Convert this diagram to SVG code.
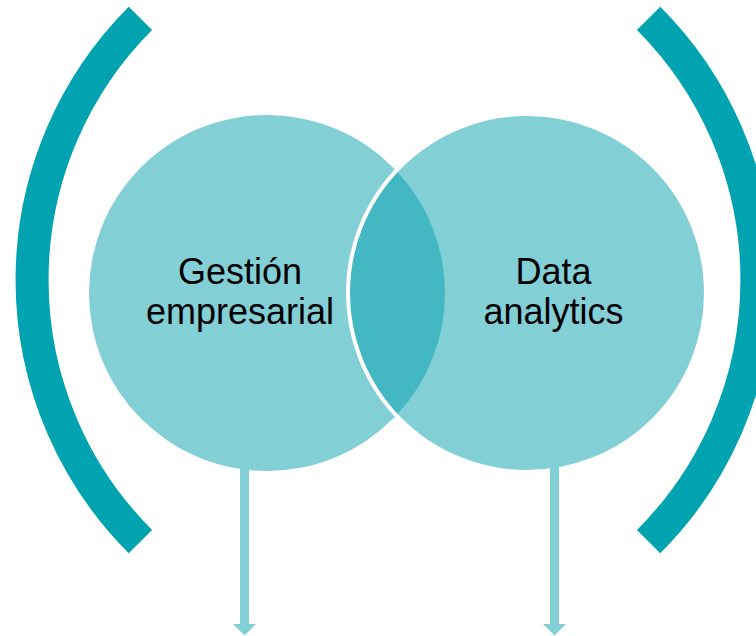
<svg xmlns="http://www.w3.org/2000/svg" width="756" height="636" viewBox="0 0 756 636">
  <style>
    .circle { fill: #83CFD6; }
    .lens { fill: #43B8C3; }
    .bracket { fill: none; stroke: #00A3AF; stroke-width: 33; stroke-linecap: butt; }
    .label { font-family: "Liberation Sans", Arial, sans-serif; font-size: 36px; fill: #000000; text-anchor: middle; }
    .shaft { stroke: #83CFD6; stroke-width: 9; fill: none; }
    .head { fill: #83CFD6; }
  </style>
  <rect width="756" height="636" fill="#FFFFFF"/>
  <g id="bracket-left">
    <path class="bracket" d="M 140.4 18.4 A 370 370 0 0 0 140.4 541.6"/>
  </g>
  <g id="bracket-right">
    <path class="bracket" d="M 648.6 18.4 A 370 370 0 0 1 648.6 541.6"/>
  </g>
  <g id="circle-gestion">
    <circle class="circle" cx="267" cy="293" r="178"/>
  </g>
  <g id="circle-data">
    <circle class="circle" cx="527" cy="293" r="179"/>
  </g>
  <g id="intersection">
    <path class="lens" d="M 397 171.4 A 178 178 0 0 1 397 414.6 A 178 178 0 0 1 397 171.4 Z"/>
    <circle cx="527" cy="293" r="179" fill="none" stroke="#FFFFFF" stroke-width="4"/>
  </g>
  <g id="connectors">
    <line class="shaft" x1="244.5" y1="462" x2="244.5" y2="625"/>
    <polygon class="head" points="233,624 256,624 244.5,635.5"/>
    <line class="shaft" x1="554.5" y1="462" x2="554.5" y2="625"/>
    <polygon class="head" points="543,624 566,624 554.5,635.5"/>
  </g>
  <g id="label-gestion">
    <text class="label" x="240" y="284">Gestión</text>
    <text class="label" x="240" y="324">empresarial</text>
  </g>
  <g id="label-data">
    <text class="label" x="553.5" y="284">Data</text>
    <text class="label" x="553.5" y="324">analytics</text>
  </g>
</svg>
